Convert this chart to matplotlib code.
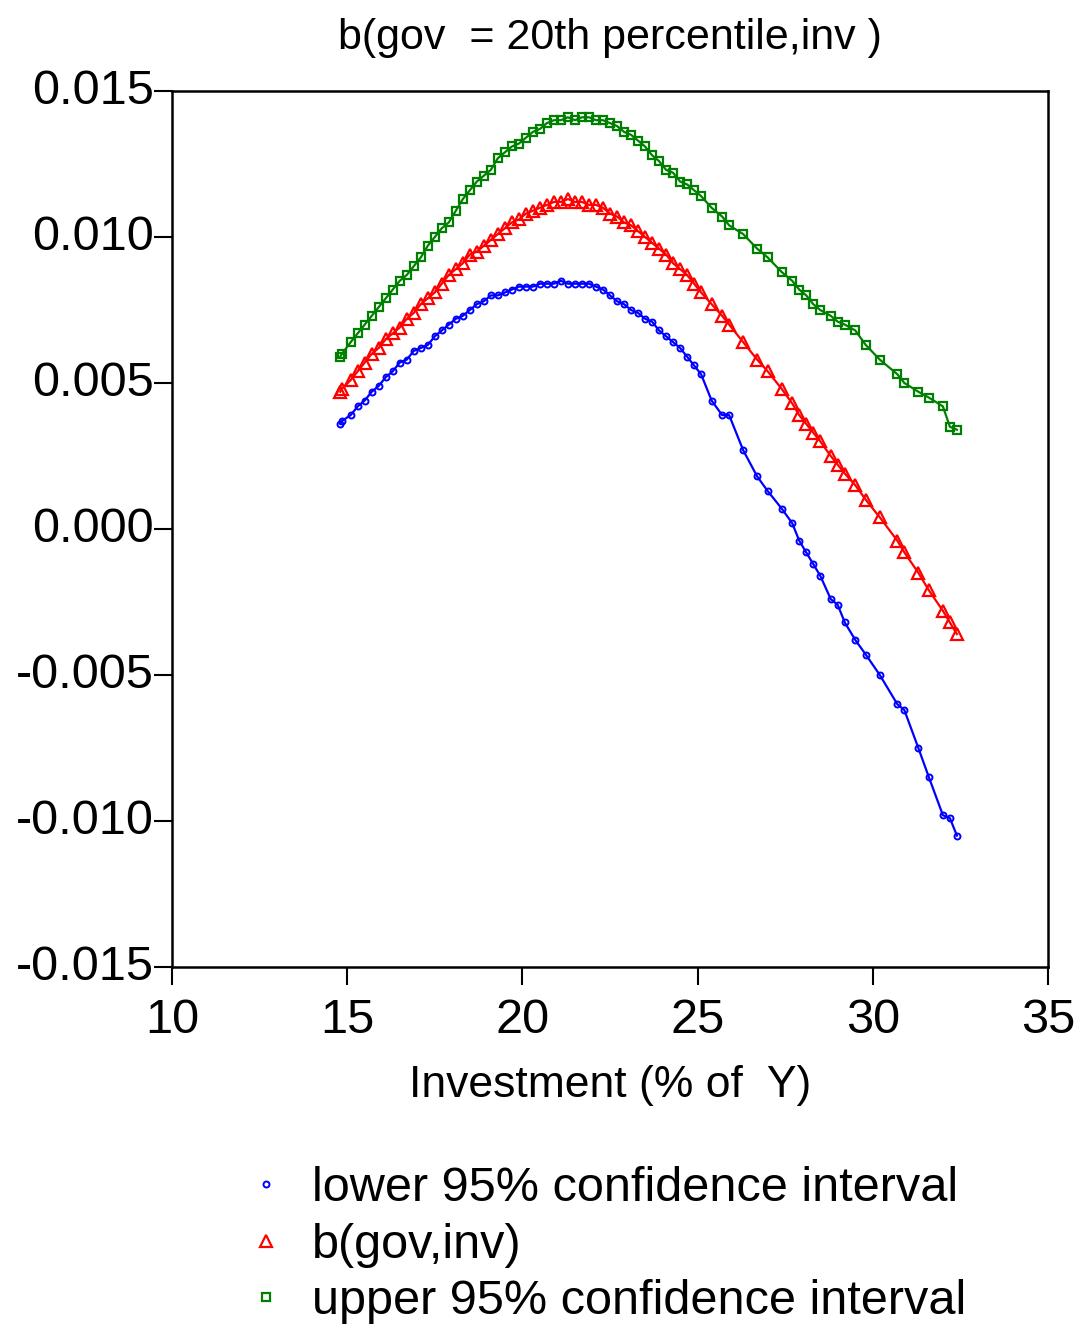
import matplotlib
matplotlib.use('Agg')
import matplotlib.pyplot as plt
import matplotlib.transforms as mtransforms

plt.rcParams['font.family'] = ['Liberation Sans', 'DejaVu Sans']
plt.rcParams['axes.unicode_minus'] = False

# investment share (% of Y)
inv = [14.8, 14.85, 15.1, 15.3, 15.5, 15.7, 15.9, 16.1, 16.3, 16.5, 16.7, 16.9,
       17.1, 17.3, 17.5, 17.7, 17.9, 18.1, 18.3, 18.5, 18.7, 18.9, 19.1, 19.3,
       19.5, 19.7, 19.9, 20.1, 20.3, 20.5, 20.7, 20.9, 21.1, 21.3, 21.5, 21.7,
       21.9, 22.1, 22.3, 22.5, 22.7, 22.9, 23.1, 23.3, 23.5, 23.7, 23.9, 24.1,
       24.3, 24.5, 24.7, 24.9, 25.1, 25.4, 25.7, 25.9, 26.3, 26.7, 27.0, 27.4,
       27.7, 27.9, 28.1, 28.3, 28.5, 28.8, 29.0, 29.2, 29.5, 29.8, 30.2, 30.7,
       30.9, 31.3, 31.6, 32.0, 32.2, 32.4]

lower = [0.0036, 0.0037, 0.0039, 0.0042, 0.0044, 0.0047, 0.0049, 0.0052, 0.0054, 0.0057, 0.0058, 0.0061,
         0.0062, 0.0063, 0.0066, 0.0068, 0.0070, 0.0072, 0.0073, 0.0075, 0.0077, 0.0078, 0.0080, 0.0080,
         0.0081, 0.0082, 0.0083, 0.0083, 0.0083, 0.0084, 0.0084, 0.0084, 0.0085, 0.0084, 0.0084, 0.0084,
         0.0084, 0.0083, 0.0082, 0.0080, 0.0078, 0.0077, 0.0075, 0.0074, 0.0072, 0.0071, 0.0068, 0.0066,
         0.0064, 0.0062, 0.0059, 0.0056, 0.0053, 0.0044, 0.0039, 0.0039, 0.0027, 0.0018, 0.0013, 0.0007,
         0.0002, -0.0004, -0.0008, -0.0012, -0.0016, -0.0024, -0.0026, -0.0032, -0.0038, -0.0043, -0.0050, -0.0060,
         -0.0062, -0.0075, -0.0085, -0.0098, -0.0099, -0.0105]

coef = [0.0047, 0.0048, 0.0051, 0.0054, 0.0057, 0.0060, 0.0062, 0.0065, 0.0067, 0.0069, 0.0072, 0.0074,
        0.0077, 0.0079, 0.0081, 0.0084, 0.0087, 0.0089, 0.0091, 0.0094, 0.0095, 0.0097, 0.0099, 0.0101,
        0.0103, 0.0105, 0.0106, 0.0108, 0.0109, 0.0110, 0.0111, 0.0112, 0.0112, 0.0113, 0.0112, 0.0112,
        0.0111, 0.0111, 0.0110, 0.0108, 0.0107, 0.0105, 0.0104, 0.0102, 0.0100, 0.0098, 0.0096, 0.0094,
        0.0091, 0.0089, 0.0087, 0.0084, 0.0081, 0.0077, 0.0073, 0.0070, 0.0064, 0.0058, 0.0054, 0.0048,
        0.0043, 0.0039, 0.0036, 0.0033, 0.0030, 0.0025, 0.0022, 0.0019, 0.0015, 0.0010, 0.0004, -0.0004,
        -0.0008, -0.0015, -0.0021, -0.0028, -0.0032, -0.0036]

upper = [0.0059, 0.0060, 0.0064, 0.0067, 0.0070, 0.0073, 0.0076, 0.0079, 0.0082, 0.0085, 0.0087, 0.0090,
         0.0093, 0.0097, 0.0100, 0.0103, 0.0105, 0.0109, 0.0113, 0.0116, 0.0119, 0.0121, 0.0123, 0.0127,
         0.0129, 0.0131, 0.0132, 0.0134, 0.0136, 0.0137, 0.0139, 0.0140, 0.0140, 0.0141, 0.0140, 0.0141,
         0.0141, 0.0140, 0.0140, 0.0139, 0.0138, 0.0136, 0.0135, 0.0133, 0.0131, 0.0128, 0.0126, 0.0123,
         0.0122, 0.0119, 0.0118, 0.0116, 0.0114, 0.0110, 0.0107, 0.0104, 0.0101, 0.0096, 0.0093, 0.0088,
         0.0085, 0.0082, 0.0080, 0.0077, 0.0075, 0.0073, 0.0071, 0.0070, 0.0068, 0.0063, 0.0058, 0.0053,
         0.0050, 0.0047, 0.0045, 0.0042, 0.0035, 0.0034]

xticks = [10, 15, 20, 25, 30, 35]
yticks = [-0.015, -0.010, -0.005, 0.000, 0.005, 0.010, 0.015]

fig = plt.figure(figsize=(10.83, 13.3), dpi=100)
ax = fig.add_axes([172/1083, 1 - 967/1330, 876/1083, 876/1330])

ax.plot(inv, upper, color='#008000', lw=1.6, marker='s', ms=5.5, mfc='none', mew=1.6,
        label='upper 95% confidence interval')
ax.plot(inv, coef, color='#ff0000', lw=1.6, marker='^', ms=9, mfc='none', mew=1.6,
        label='b(gov,inv)')
ax.plot(inv, lower, color='#0000ff', lw=1.6, marker='o', ms=4.3, mfc='none', mew=1.4,
        label='lower 95% confidence interval')

ax.set_xlim(10, 35)
ax.set_ylim(-0.015, 0.015)
ax.set_xticks(xticks)
ax.set_yticks(yticks)
ax.set_yticklabels(['%.3f' % v for v in yticks])
ax.tick_params(direction='out', length=13, width=1.5, labelsize=35)
ax.tick_params(axis='y', pad=0)
ax.tick_params(axis='x', pad=9)
for s in ax.spines.values():
    s.set_linewidth(1.8)

# y labels sit a little above their ticks in the original
shift = mtransforms.ScaledTranslation(0, 5/100, fig.dpi_scale_trans)
for lab in ax.get_yticklabels():
    lab.set_transform(lab.get_transform() + shift)

ax.set_title('b(gov  = 20th percentile,inv )', fontsize=31, pad=30)
ax.set_xlabel('Investment (% of  Y)', fontsize=32, labelpad=16)

h, l = ax.get_legend_handles_labels()
fig.legend(h[::-1], l[::-1], loc='upper left', bbox_to_anchor=(266/1083, 1 - 1166/1330),
           frameon=False, fontsize=35, handlelength=0, handletextpad=0.95,
           labelspacing=0.24, borderpad=0, borderaxespad=0, numpoints=1)

fig.savefig('out.png', dpi=100)
